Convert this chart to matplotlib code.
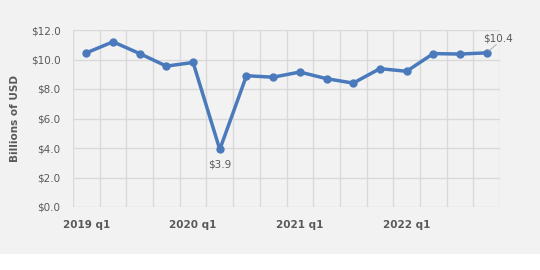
import numpy as np
import matplotlib.pyplot as plt
from matplotlib.patches import Rectangle

# quarterly values, 2019 q1 .. 2022 q4
quarters = ['2019 q1', '2019 q2', '2019 q3', '2019 q4',
            '2020 q1', '2020 q2', '2020 q3', '2020 q4',
            '2021 q1', '2021 q2', '2021 q3', '2021 q4',
            '2022 q1', '2022 q2', '2022 q3', '2022 q4']
values = [10.45, 11.2, 10.4, 9.55, 9.8, 3.9, 8.9, 8.8,
          9.15, 8.7, 8.4, 9.38, 9.2, 10.4, 10.37, 10.45]
yticks = [0, 2, 4, 6, 8, 10, 12]

bg = '#f2f2f3'
grey = '#595959'
blue = '#4a7abb'

fig = plt.figure(figsize=(5.4, 2.7), dpi=100)
fig.patch.set_facecolor('white')
fig.patches.append(Rectangle((0, 16/270), 1, 1, transform=fig.transFigure,
                             facecolor=bg, edgecolor='none', zorder=-10))
ax = fig.add_axes([73/540, 1-207/270, 427/540, 177/270])
ax.set_facecolor(bg)

x = np.arange(len(values))
ax.plot(x, values, color=blue, lw=2.5, marker='o', ms=5, zorder=3,
        solid_joinstyle='round')

ax.set_xlim(-0.5, len(values)-0.5)
ax.set_ylim(0, 12)
ax.set_xticks(np.arange(-0.5, len(values)), minor=False)
ax.set_xticklabels([])
ax.set_yticks(yticks)
ax.set_yticklabels(['$%.1f' % v for v in yticks], color=grey, fontsize=7.5)
ax.grid(True, color='#d9d9d9', lw=1)
ax.tick_params(length=0, pad=9)
for s in ax.spines.values():
    s.set_visible(False)

for i in range(0, len(values), 4):
    ax.text(i, -0.85, quarters[i], ha='center', va='top', fontsize=7.5,
            fontweight='bold', color=grey)

ax.set_ylabel('Billions of USD', fontsize=7.5, fontweight='bold', color=grey,
              labelpad=8)

i_min = int(np.argmin(values))
ax.annotate('$%.1f' % values[i_min], (i_min, values[i_min]),
            xytext=(0, -7), textcoords='offset points', ha='center', va='top',
            fontsize=7.5, color=grey)
ax.annotate('$%.1f' % values[-1], (x[-1], values[-1]),
            xytext=(8, 7), textcoords='offset points', ha='center', va='bottom',
            fontsize=7.5, color=grey)
ax.annotate('', (x[-1], values[-1]), xytext=(7, 6), textcoords='offset points',
            arrowprops=dict(arrowstyle='-', color='#a6a6a6', lw=0.6,
                            shrinkA=0, shrinkB=2))

fig.savefig('out.png', dpi=100)
